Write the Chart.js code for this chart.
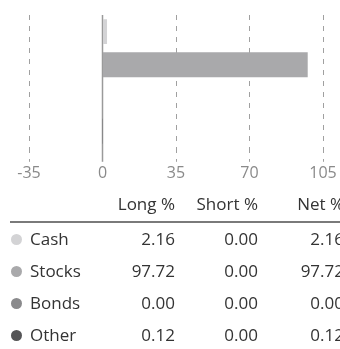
<!DOCTYPE html>
<html>
<head>
<meta charset="utf-8">
<script src="https://cdn.jsdelivr.net/npm/chart.js@4/dist/chart.umd.min.js"></script>
<style>
  body { margin: 0; background: #fff; width: 340px; height: 349px; overflow: hidden; position: relative; font-family: "Open Sans", sans-serif; }
  #grafica { position: absolute; left: 0; top: 0; width: 340px; height: 190px; }
  #tabla { position: absolute; left: 0; top: 188px; width: 340px; height: 161px; color: #333; font-size: 17px; }
  .celda { position: absolute; white-space: nowrap; line-height: 20px; }
  .punto { position: absolute; width: 11px; height: 11px; border-radius: 50%; }
  .linea { position: absolute; left: 10px; top: 33px; width: 330px; height: 2px; background: #7a7a7a; }
</style>
</head>
<body>
<div id="grafica"><canvas id="canvas-activos"></canvas></div>
<div id="tabla"></div>
<script>
// Datos de la cartera
var categorias = ['Cash', 'Stocks', 'Bonds', 'Other'];
var largo = [2.16, 97.72, 0.00, 0.12];
var corto = [0.00, 0.00, 0.00, 0.00];
var neto = [2.16, 97.72, 0.00, 0.12];
var columnas = ['Long %', 'Short %', 'Net %'];
var ticksX = [-35, 0, 35, 70, 105];
var colores = ['#d3d3d5', '#a9a9ab', '#8a8a8c', '#555557'];

// Linea del cero, sobre la que arrancan las barras
var lineaCero = {
    id: 'lineaCero',
    beforeDatasetsDraw: function(chart) {
        var ctx = chart.ctx;
        var x = chart.scales.x.getPixelForValue(0);
        ctx.save();
        ctx.strokeStyle = '#9a9a9a';
        ctx.lineWidth = 1.5;
        ctx.beginPath();
        ctx.moveTo(x, chart.chartArea.top);
        ctx.lineTo(x, chart.chartArea.bottom + 14);
        ctx.stroke();
        ctx.restore();
    }
};

var ctx = document.getElementById('canvas-activos').getContext('2d');
var grafica = new Chart(ctx, {
    type: 'bar',
    data: {
        labels: categorias,
        datasets: [{
            data: neto,
            backgroundColor: colores,
            borderWidth: 0,
            barPercentage: 0.75,
            categoryPercentage: 1
        }]
    },
    options: {
        indexAxis: 'y',
        responsive: true,
        maintainAspectRatio: false,
        animation: false,
        layout: { padding: { left: 29, right: 17, top: 15, bottom: 5 } },
        plugins: { legend: { display: false }, tooltip: { enabled: false } },
        scales: {
            x: {
                min: ticksX[0],
                max: ticksX[ticksX.length - 1],
                afterBuildTicks: function(scale) {
                    scale.ticks = ticksX.map(function(v) { return { value: v }; });
                },
                border: { display: false, dash: [5, 6] },
                grid: {
                    color: function(c) { return c.tick && c.tick.value === 0 ? 'rgba(0,0,0,0)' : '#a0a0a0'; },
                    tickColor: function(c) { return c.tick && c.tick.value === 0 ? 'rgba(0,0,0,0)' : '#a0a0a0'; },
                    lineWidth: 1,
                    tickLength: 14,
                    tickBorderDash: [5, 6]
                },
                ticks: {
                    color: '#8a8a8a',
                    padding: 2,
                    font: { family: '"Open Sans", sans-serif', size: 16 }
                }
            },
            y: { display: false }
        }
    },
    plugins: [lineaCero]
});

// Tabla de posiciones debajo de la grafica
var tabla = document.getElementById('tabla');
var bordesDerechos = [175, 258, 344];
var filaY = [6, 41, 73, 105, 137];

function celda(texto, derecha, y) {
    var d = document.createElement('div');
    d.className = 'celda';
    d.textContent = texto;
    d.style.right = (340 - derecha) + 'px';
    d.style.top = y + 'px';
    tabla.appendChild(d);
}

columnas.forEach(function(c, j) { celda(c, bordesDerechos[j], filaY[0]); });

var linea = document.createElement('div');
linea.className = 'linea';
tabla.appendChild(linea);

categorias.forEach(function(cat, i) {
    var y = filaY[i + 1];
    var p = document.createElement('div');
    p.className = 'punto';
    p.style.left = '11px';
    p.style.top = (y + 5) + 'px';
    p.style.background = colores[i];
    tabla.appendChild(p);

    var n = document.createElement('div');
    n.className = 'celda';
    n.textContent = cat;
    n.style.left = '30px';
    n.style.top = y + 'px';
    tabla.appendChild(n);

    celda(largo[i].toFixed(2), bordesDerechos[0], y);
    celda(corto[i].toFixed(2), bordesDerechos[1], y);
    celda(neto[i].toFixed(2), bordesDerechos[2], y);
});
</script>
</body>
</html>
